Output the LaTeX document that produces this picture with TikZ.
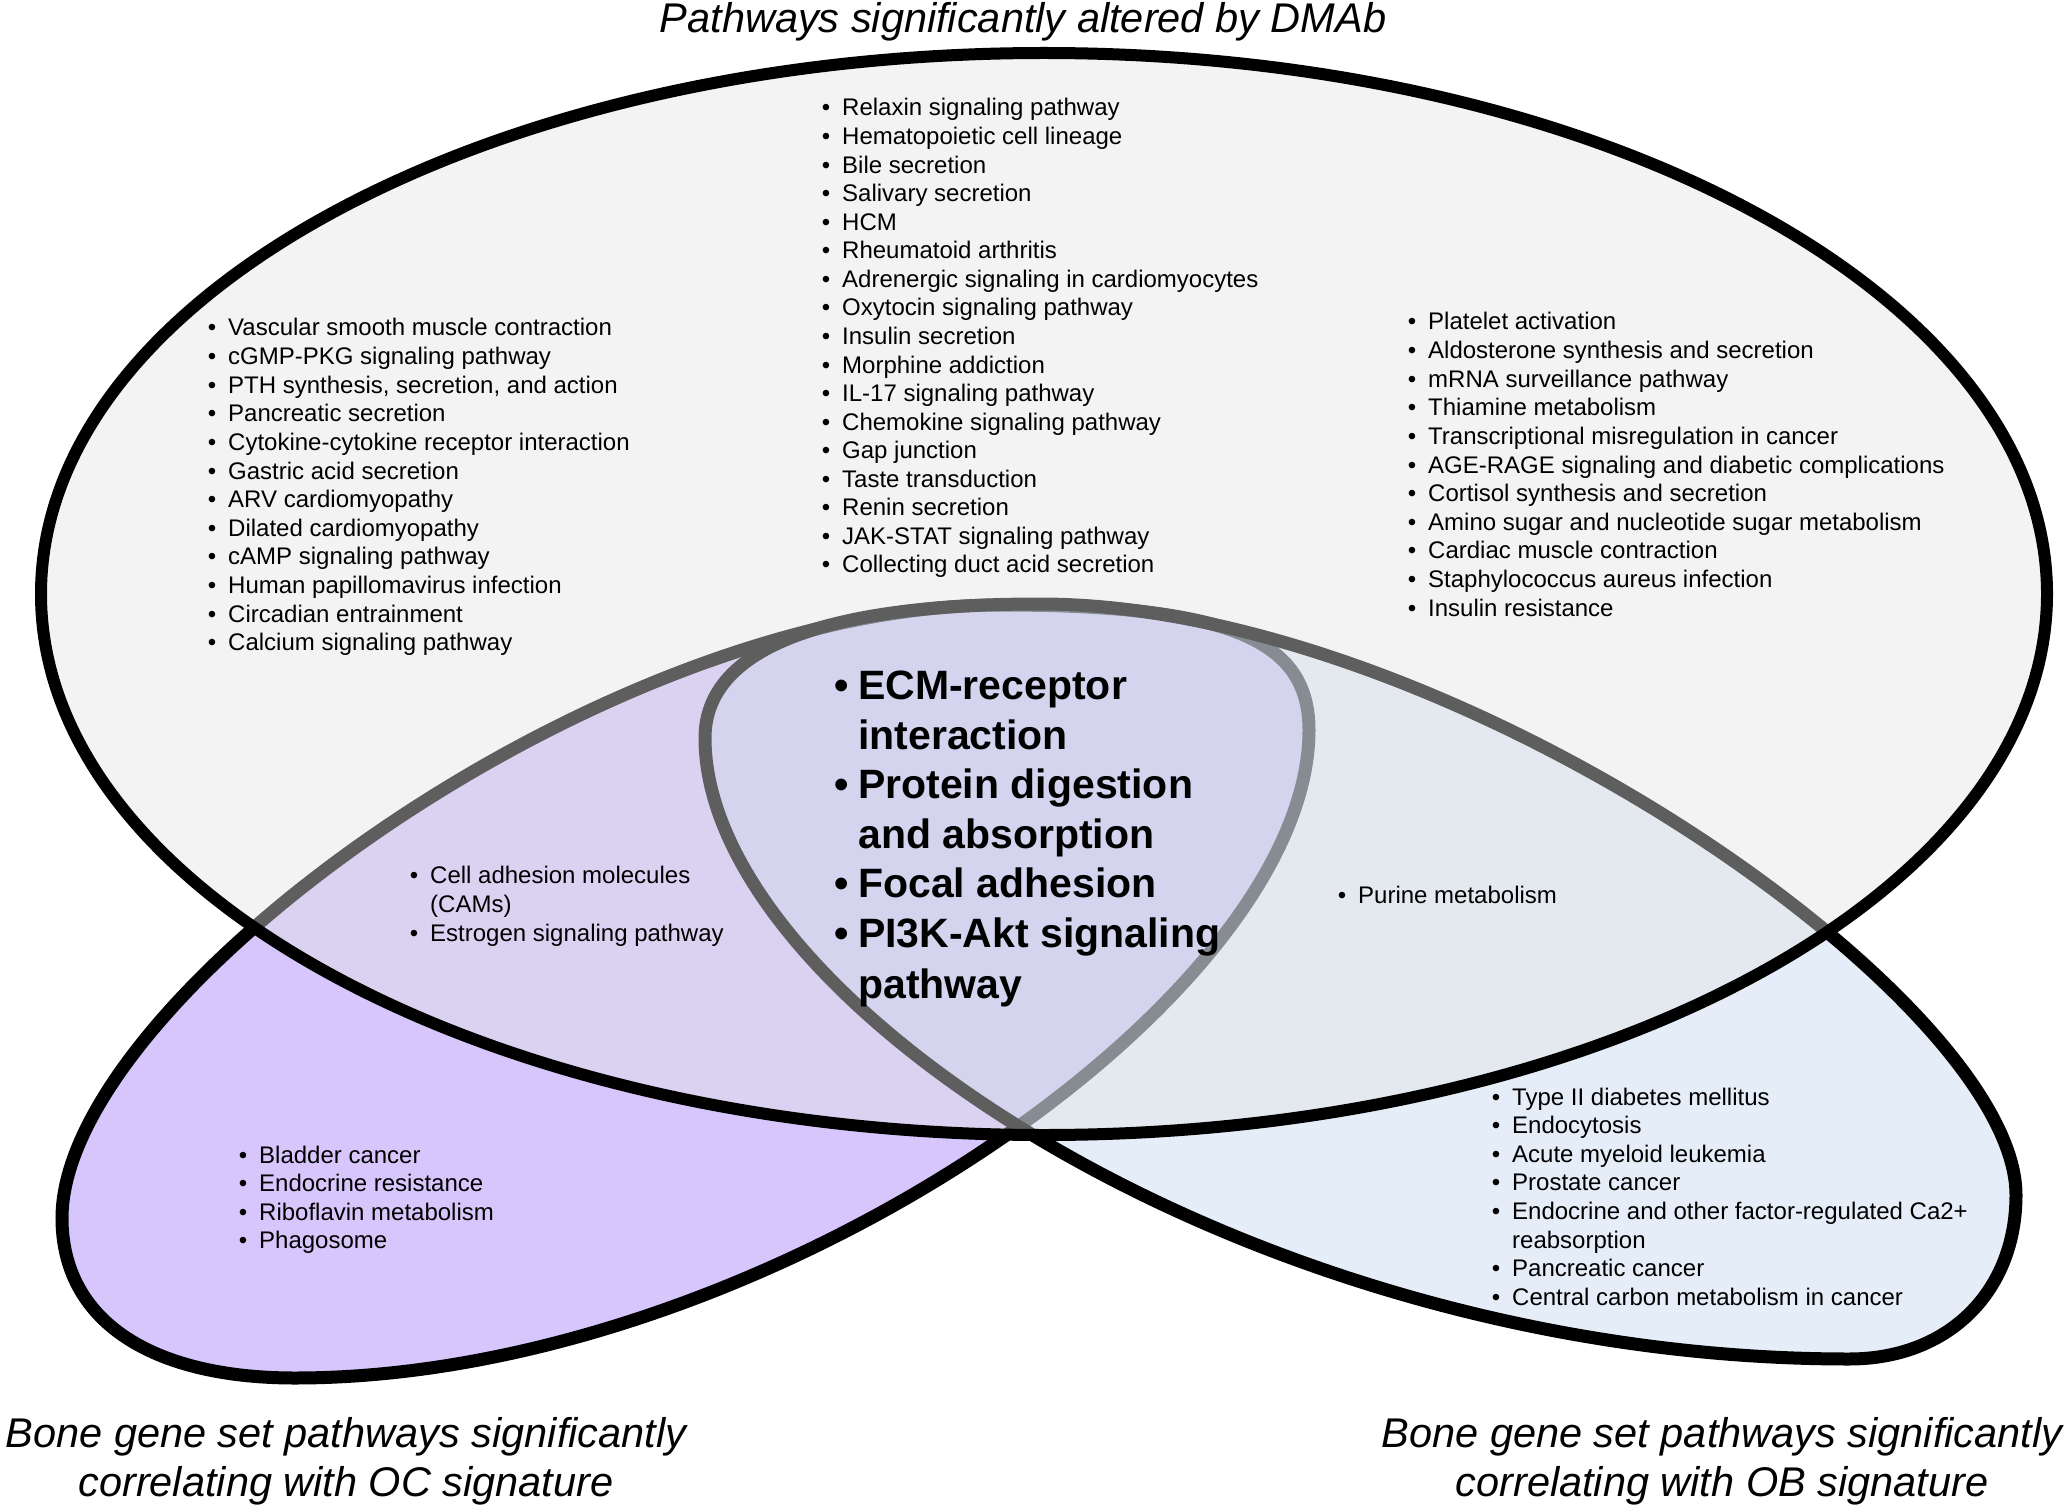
\documentclass[tikz,border=0pt]{standalone}
\usepackage{fontspec}
\setmainfont{Liberation Sans}
\definecolor{ocfill}{RGB}{214,198,252}
\definecolor{obfill}{RGB}{188,210,239}
\definecolor{bigfill}{RGB}{228,228,228}
\begin{document}
\begin{tikzpicture}[x=1pt,y=-1pt,
  sm/.style={font=\fontsize{24}{29}\selectfont, inner sep=0pt, anchor=base west},
  it/.style={sm, execute at begin node={\llap{•\hspace{12pt}}}},
  bg/.style={font=\fontsize{41}{49}\selectfont\bfseries, inner sep=0pt, anchor=base west},
  bgit/.style={bg, execute at begin node={\llap{•\hspace{9pt}}}},
  lab/.style={font=\fontsize{41.5}{50}\selectfont\itshape, inner sep=0pt, anchor=base},
  outline/.style={line width=13pt, draw=black}]
\useasboundingbox[fill=white] (0,0) rectangle (2070,1511);
% OC lobe
\draw[outline, fill=ocfill] (1309,730) .. controls (1309,1000) and (760,1378) .. (295,1378)
  .. controls (150,1378) and (62,1320) .. (62,1218)
  .. controls (62,1000) and (600,605) .. (1000,605)
  .. controls (1230,605) and (1309,640) .. (1309,730) -- cycle;
% OB lobe
\draw[outline, fill=obfill, fill opacity=0.375] (705,738) .. controls (705,1000) and (1250,1359) .. (1849,1359)
  .. controls (1950,1359) and (2016,1290) .. (2016,1195)
  .. controls (2016,1000) and (1450,604) .. (1040,604)
  .. controls (820,604) and (705,650) .. (705,738) -- cycle;
% DMAb ellipse
\draw[line width=12pt, draw=black, fill=bigfill, fill opacity=0.416] (1044,594) ellipse [x radius=1003, y radius=541];
% titles
\node[lab] (title) at (1023,33) {Pathways significantly altered by DMAb};
\node[lab] (oc1) at (346,1447) {Bone gene set pathways significantly};
\node[lab] (oc2) at (346,1496) {correlating with OC signature};
\node[lab] (ob1) at (1722,1447) {Bone gene set pathways significantly};
\node[lab] (ob2) at (1722,1496) {correlating with OB signature};
% top centre list
\foreach \txt [count=\i from 0] in {Relaxin signaling pathway, Hematopoietic cell lineage, Bile secretion, Salivary secretion, HCM, Rheumatoid arthritis, Adrenergic signaling in cardiomyocytes, Oxytocin signaling pathway, Insulin secretion, Morphine addiction, IL-17 signaling pathway, Chemokine signaling pathway, Gap junction, Taste transduction, Renin secretion, JAK-STAT signaling pathway, Collecting duct acid secretion}
  \node[it] (tc\i) at (842,{116+28.56*\i}) {\txt};
% left list
\foreach \txt [count=\i from 0] in {Vascular smooth muscle contraction, cGMP-PKG signaling pathway, {PTH synthesis, secretion, and action}, Pancreatic secretion, Cytokine-cytokine receptor interaction, Gastric acid secretion, ARV cardiomyopathy, Dilated cardiomyopathy, cAMP signaling pathway, Human papillomavirus infection, Circadian entrainment, Calcium signaling pathway}
  \node[it] (tl\i) at (228,{336+28.6*\i}) {\txt};
% right list
\foreach \txt [count=\i from 0] in {Platelet activation, Aldosterone synthesis and secretion, mRNA surveillance pathway, Thiamine metabolism, Transcriptional misregulation in cancer, AGE-RAGE signaling and diabetic complications, Cortisol synthesis and secretion, Amino sugar and nucleotide sugar metabolism, Cardiac muscle contraction, Staphylococcus aureus infection, Insulin resistance}
  \node[it] (tr\i) at (1428,{330+28.6*\i}) {\txt};
% OC and DMAb
\node[it] (ocd1) at (430,883) {Cell adhesion molecules};
\node[sm] (ocd2) at (430,912) {(CAMs)};
\node[it] (ocd3) at (430,941) {Estrogen signaling pathway};
% OB and DMAb
\node[it] (obd1) at (1358,903) {Purine metabolism};
% centre
\node[bgit] (c1) at (858,699) {ECM-receptor};
\node[bg] (c2) at (858,749) {interaction};
\node[bgit] (c3) at (858,798) {Protein digestion};
\node[bg] (c4) at (858,848) {and absorption};
\node[bgit] (c5) at (858,897) {Focal adhesion};
\node[bgit] (c6) at (858,947) {PI3K-Akt signaling};
\node[bg] (c7) at (858,998) {pathway};
% OC only
\foreach \txt [count=\i from 0] in {Bladder cancer, Endocrine resistance, Riboflavin metabolism, Phagosome}
  \node[it] (bl\i) at (259,{1163+28.6*\i}) {\txt};
% OB only
\node[it] (br0) at (1512,1105) {Type II diabetes mellitus};
\node[it] (br1) at (1512,1133.6) {Endocytosis};
\node[it] (br2) at (1512,1162.2) {Acute myeloid leukemia};
\node[it] (br3) at (1512,1190.8) {Prostate cancer};
\node[it] (br4) at (1512,1219.4) {Endocrine and other factor-regulated Ca2+};
\node[sm] (br5) at (1512,1248) {reabsorption};
\node[it] (br6) at (1512,1276.6) {Pancreatic cancer};
\node[it] (br7) at (1512,1305.2) {Central carbon metabolism in cancer};
\end{tikzpicture}
\end{document}
